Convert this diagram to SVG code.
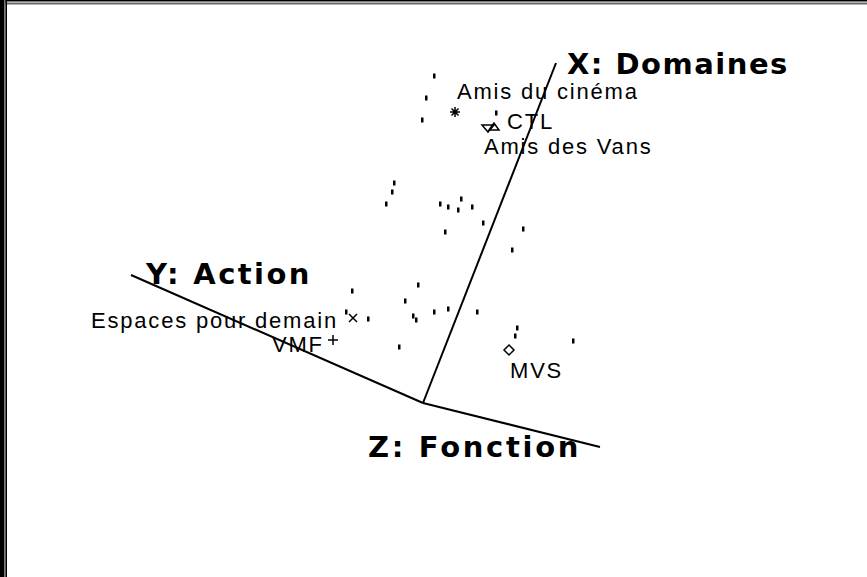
<svg xmlns="http://www.w3.org/2000/svg" width="867" height="577" viewBox="0 0 867 577">
<style>
.axis{stroke:#000;stroke-width:2;fill:none}
.big{font-family:"DejaVu Sans",sans-serif;font-weight:bold;font-size:29px;fill:#000}
.lbl{font-family:"Liberation Sans",Arial,sans-serif;font-size:22px;letter-spacing:1.8px;fill:#000}
.dot{fill:#000}
.sym{stroke:#000;stroke-width:1.5;fill:none}
</style>
<defs>
<rect id="d" class="dot" x="-1" y="-2.5" width="2.5" height="5"/>
</defs>
<rect width="867" height="577" fill="#fff"/>
<g id="frame">
<rect x="0" y="0" width="867" height="1.5" fill="#000"/>
<rect x="0" y="2.5" width="867" height="2" fill="#666"/>
<rect x="0" y="0" width="4" height="577" fill="#000"/>
<rect x="4" y="0" width="1.5" height="577" fill="#777"/>
<rect x="5.5" y="0" width="1.5" height="577" fill="#000"/>
</g>
<g id="connectors">
<line class="axis" x1="423" y1="403" x2="556" y2="63"/>
<line class="axis" x1="423" y1="403" x2="131" y2="275"/>
<line class="axis" x1="423" y1="403" x2="600" y2="447"/>
</g>
<g id="axis-x"><text class="big" x="567" y="74" letter-spacing="1.5">X: Domaines</text></g>
<g id="axis-y"><text class="big" x="146" y="284" letter-spacing="2.4">Y: Action</text></g>
<g id="axis-z"><text class="big" x="368" y="457" letter-spacing="2.7">Z: Fonction</text></g>
<g id="dots">
<use href="#d" x="434" y="76"/>
<use href="#d" x="426" y="98"/>
<use href="#d" x="422" y="120"/>
<use href="#d" x="496" y="113"/>
<use href="#d" x="394" y="183"/>
<use href="#d" x="392" y="192"/>
<use href="#d" x="386" y="204"/>
<use href="#d" x="440" y="204"/>
<use href="#d" x="448" y="207"/>
<use href="#d" x="461" y="199"/>
<use href="#d" x="458" y="210"/>
<use href="#d" x="472" y="207"/>
<use href="#d" x="445" y="232"/>
<use href="#d" x="483" y="223"/>
<use href="#d" x="523" y="229"/>
<use href="#d" x="512" y="250"/>
<use href="#d" x="418" y="285"/>
<use href="#d" x="352" y="291"/>
<use href="#d" x="405" y="301"/>
<use href="#d" x="413" y="316"/>
<use href="#d" x="416" y="320"/>
<use href="#d" x="434" y="312"/>
<use href="#d" x="448" y="309"/>
<use href="#d" x="477" y="312"/>
<use href="#d" x="368" y="319"/>
<use href="#d" x="346" y="312"/>
<use href="#d" x="399" y="347"/>
<use href="#d" x="517" y="328"/>
<use href="#d" x="515" y="336"/>
<use href="#d" x="573" y="341"/>
</g>
<g id="amis-cinema">
<path class="sym" d="M450 112h10M455 107v10M451.5 108.5l7 7M458.5 108.5l-7 7"/>
<text class="lbl" x="457" y="99">Amis du cinéma</text>
</g>
<g id="ctl">
<path class="sym" d="M482 125h12l-6 7z"/>
<path class="sym" d="M489 130l5-7 5 7z"/>
<text class="lbl" x="507" y="129">CTL</text>
</g>
<g id="amis-vans"><text class="lbl" x="484" y="154">Amis des Vans</text></g>
<g id="espaces">
<path class="sym" d="M349 314l8 8M357 314l-8 8"/>
<text class="lbl" x="91" y="328">Espaces pour demain</text>
</g>
<g id="vmf">
<path class="sym" d="M333 335v10M328 340h10"/>
<text class="lbl" x="272" y="352">VMF</text>
</g>
<g id="mvs">
<path class="sym" d="M509 345l5 5-5 5-5-5z"/>
<text class="lbl" x="510" y="378">MVS</text>
</g>
</svg>
